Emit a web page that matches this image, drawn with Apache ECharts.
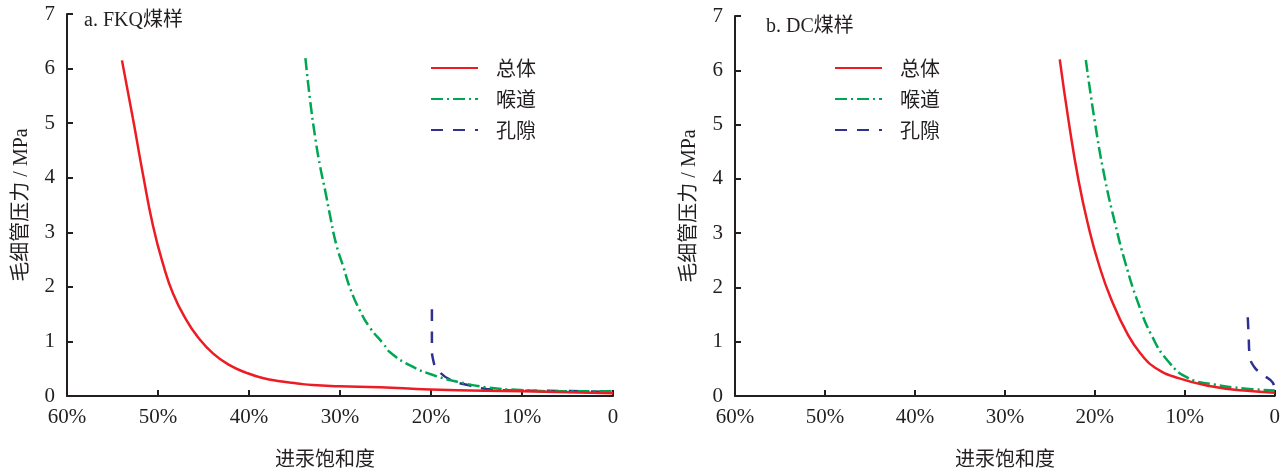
<!DOCTYPE html>
<html><head><meta charset="utf-8">
<script src="https://cdn.jsdelivr.net/npm/echarts@6/dist/echarts.min.js"></script>
<style>html,body{margin:0;padding:0;background:#fff}#c{width:1283px;height:473px}</style>
</head><body><div id="c"></div>
<script>
// Saturation (%) vs capillary pressure (MPa)
const seriesNames = ['总体', '喉道', '孔隙'];
const panelTitles = ['a. FKQ煤样', 'b. DC煤样'];
const xAxisTitle = '进汞饱和度';
const yAxisTitle = '毛细管压力 / MPa';

const fkqTotal = [[53.96,6.15],[52.75,5.08],[51.65,4.06],[50.55,3.12],[49.45,2.42],[48.35,1.88],[46.81,1.37],[45.71,1.10],[43.96,0.78],[42.09,0.56],[40.2,0.42],[38.5,0.33],[36.6,0.27],[34.7,0.23],[33.0,0.20],[30.1,0.18],[25.6,0.16],[20.1,0.12],[10.0,0.085],[0,0.05]];
const fkqThroat = [[33.8,6.19],[33.3,5.44],[32.7,4.71],[32.2,4.22],[31.6,3.74],[31.1,3.31],[30.4,2.77],[29.6,2.35],[28.9,1.98],[27.8,1.56],[26.7,1.25],[25.2,0.95],[24.5,0.80],[22.3,0.56],[19.7,0.38],[16.8,0.25],[13.9,0.16],[10.2,0.11],[4.7,0.085],[0,0.085]];
const fkqPore = [[19.9,1.59],[19.9,1.2],[19.9,0.89],[19.75,0.65],[19.2,0.47],[17.9,0.30],[15.7,0.19],[13.9,0.13],[10.2,0.10],[4.7,0.09],[0,0.07]];

const dcTotal = [[23.9,6.2],[22.9,5.05],[21.8,3.96],[20.7,3.12],[19.6,2.45],[18.2,1.79],[16.3,1.12],[14.8,0.76],[13.3,0.52],[10.7,0.33],[7.1,0.18],[3.4,0.10],[0,0.06]];
const dcThroat = [[21.0,6.19],[20.0,5.05],[18.9,4.02],[17.75,3.18],[16.6,2.45],[15.2,1.72],[13.7,1.12],[11.85,0.64],[9.6,0.33],[6.7,0.21],[3.4,0.14],[0,0.10]];
const dcPore = [[3.0,1.45],[2.9,1.1],[2.8,0.76],[2.3,0.54],[1.3,0.39],[0.2,0.24],[0,0.09]];

const AX = '#231f20';
const SERIF = "'Liberation Serif','Noto Sans CJK SC'";
const CJK = "'Noto Sans CJK SC'";
const colors = ['#ed1c24', '#00a651', '#2e3192'];
const lineTypes = ['solid', [12,4,2,4], [12,10]];

function xAx(gi, padRight) {
  return {
    type: 'value', gridIndex: gi, min: 0, max: 60, interval: 10, inverse: true,
    name: xAxisTitle, nameLocation: 'middle', nameGap: 52,
    nameTextStyle: { fontSize: 20, fontFamily: CJK, color: AX, padding: [0, padRight, 0, 0] },
    axisLine: { show: true, onZero: false, lineStyle: { color: AX, width: 2 } },
    axisTick: { show: true, inside: true, length: 6, lineStyle: { color: AX, width: 2 } },
    axisLabel: { fontSize: 21, fontFamily: SERIF, color: AX, margin: 11,
      formatter: v => v === 0 ? '0' : v + '%' },
    splitLine: { show: false }
  };
}
function yAx(gi) {
  return {
    type: 'value', gridIndex: gi, position: 'left', min: 0, max: 7, interval: 1,
    name: yAxisTitle, nameLocation: 'middle', nameGap: 35, nameRotate: 90,
    nameTextStyle: { fontSize: 20, fontFamily: SERIF, color: AX },
    axisLine: { show: true, onZero: false, lineStyle: { color: AX, width: 2 } },
    axisTick: { show: true, inside: true, length: 6, lineStyle: { color: AX, width: 2 } },
    axisLabel: { fontSize: 21, fontFamily: SERIF, color: AX, margin: 12 },
    splitLine: { show: false }
  };
}
function mk(name, data, idx, gi) {
  return {
    type: 'line', name: name, data: data, xAxisIndex: gi, yAxisIndex: gi,
    showSymbol: false, symbol: 'none', smooth: 0.5,
    lineStyle: { color: colors[idx], width: 2.5, type: lineTypes[idx] },
    itemStyle: { color: colors[idx] }, z: 3 - idx
  };
}
function legend(left, top) {
  return {
    left: left, top: top, orient: 'vertical', itemWidth: 47, itemHeight: 14, itemGap: 11,
    data: seriesNames, selectedMode: false,
    itemStyle: { opacity: 0 },
    textStyle: { fontSize: 20, fontFamily: CJK, color: AX, lineHeight: 20, padding: [0, 0, 0, 13] }
  };
}
const chart = echarts.init(document.getElementById('c'), null, { renderer: 'canvas' });
chart.setOption({
  animation: false,
  backgroundColor: '#fff',
  title: [
    { text: panelTitles[0], left: 79, top: 6, textStyle: { fontSize: 20, fontWeight: 'normal', fontFamily: SERIF, color: AX } },
    { text: panelTitles[1], left: 761, top: 12, textStyle: { fontSize: 20, fontWeight: 'normal', fontFamily: SERIF, color: AX } }
  ],
  legend: [legend(425, 53), legend(829, 53)],
  grid: [
    { left: 67, right: 670, top: 14, bottom: 74 },
    { left: 735, right: 6, top: 16, bottom: 71 }
  ],
  xAxis: [xAx(0, 30), xAx(1, 0)],
  yAxis: [yAx(0), yAx(1)],
  series: [
    mk(seriesNames[0], fkqTotal, 0, 0),
    mk(seriesNames[1], fkqThroat, 1, 0),
    mk(seriesNames[2], fkqPore, 2, 0),
    mk(seriesNames[0], dcTotal, 0, 1),
    mk(seriesNames[1], dcThroat, 1, 1),
    mk(seriesNames[2], dcPore, 2, 1)
  ]
});
</script></body></html>
